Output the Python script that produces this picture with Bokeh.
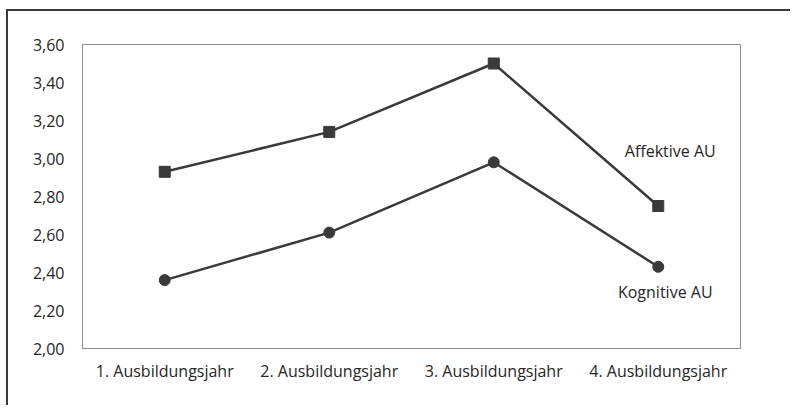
from bokeh.plotting import figure
from bokeh.models import FixedTicker, ColumnDataSource
from bokeh.core.properties import value
from bokeh.embed import file_html
from bokeh.resources import INLINE

categories = ["1. Ausbildungsjahr", "2. Ausbildungsjahr", "3. Ausbildungsjahr", "4. Ausbildungsjahr"]
affektive = [2.93, 3.14, 3.50, 2.75]
kognitive = [2.36, 2.61, 2.98, 2.43]
y_ticks = [2.00, 2.20, 2.40, 2.60, 2.80, 3.00, 3.20, 3.40, 3.60]
y_tick_labels = ["2,00", "2,20", "2,40", "2,60", "2,80", "3,00", "3,20", "3,40", "3,60"]
series_names = ["Affektive AU", "Kognitive AU"]

FONT = "Open Sans"
FS = "16px"
TXT = "#262626"
LINE = "#3a3a3a"
AXIS = "#8c8c8c"

xs = list(range(1, len(categories) + 1))

p = figure(width=784, height=396, output_backend="svg", toolbar_location=None,
           x_range=(0.5, len(categories) + 0.5), y_range=(y_ticks[0], y_ticks[-1]),
           min_border_left=74, min_border_top=33, min_border_right=52, min_border_bottom=59)
p.styles = {"border-left": "2px solid #3a3a3a", "border-top": "2px solid #3a3a3a",
            "margin-left": "6px", "margin-top": "9px"}
p.xgrid.visible = False
p.ygrid.visible = False
p.outline_line_color = AXIS
p.outline_line_width = 1
p.background_fill_color = "white"
p.border_fill_color = "white"

# axes
p.yaxis.ticker = FixedTicker(ticks=y_ticks)
p.yaxis.major_label_overrides = {t: l for t, l in zip(y_ticks, y_tick_labels)}
p.yaxis.major_tick_out = 5
p.yaxis.major_tick_in = 0
p.yaxis.minor_tick_line_color = None
p.yaxis.major_label_standoff = 13

boundaries = [x - 0.5 for x in xs] + [xs[-1] + 0.5]
p.xaxis.ticker = FixedTicker(ticks=xs, minor_ticks=boundaries)
p.xaxis.major_label_overrides = {x: c for x, c in zip(xs, categories)}
p.xaxis.major_tick_line_color = None
p.xaxis.minor_tick_out = 6
p.xaxis.minor_tick_in = 0
p.xaxis.major_label_standoff = 5

for ax in (p.xaxis, p.yaxis):
    ax.axis_line_color = AXIS
    ax.major_tick_line_color = AXIS if ax is p.yaxis else None
    ax.minor_tick_line_color = AXIS if ax is p.xaxis else None
    ax.major_label_text_font = FONT
    ax.major_label_text_font_size = FS
    ax.major_label_text_color = TXT

# series
src_a = ColumnDataSource(dict(x=xs, y=affektive))
src_k = ColumnDataSource(dict(x=xs, y=kognitive))
p.line("x", "y", source=src_a, line_color=LINE, line_width=2.5)
p.scatter("x", "y", source=src_a, marker="square", size=11, fill_color=LINE, line_color=LINE)
p.line("x", "y", source=src_k, line_color=LINE, line_width=2.5)
p.scatter("x", "y", source=src_k, marker="circle", size=11, fill_color=LINE, line_color=LINE)

# series labels next to the last points
p.text(x=[xs[-1]], y=[affektive[-1]], text=[series_names[0]], x_offset=12, y_offset=-55,
       text_font=value(FONT), text_font_size=FS, text_color=TXT,
       text_align="center", text_baseline="middle")
p.text(x=[xs[-1]], y=[kognitive[-1]], text=[series_names[1]], x_offset=7, y_offset=25,
       text_font=value(FONT), text_font_size=FS, text_color=TXT,
       text_align="center", text_baseline="middle")

open("out.html", "w").write(file_html(p, INLINE))
